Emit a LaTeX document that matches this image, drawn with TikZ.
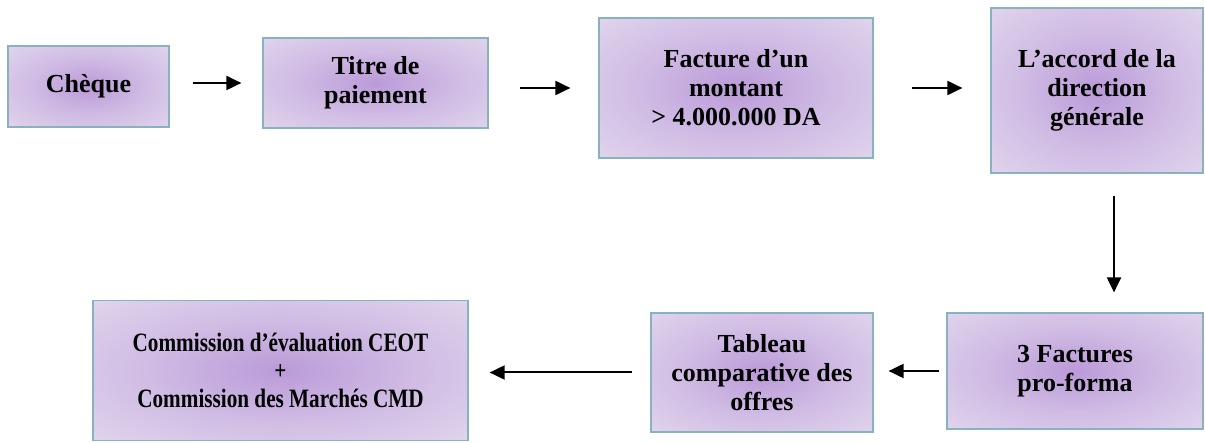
\documentclass[tikz,border=0pt]{standalone}
\usepackage{fontspec}
\setmainfont{Liberation Serif}
\newfontfamily\narrowserif[FakeStretch=0.8]{Liberation Serif}
\usetikzlibrary{arrows.meta}
\definecolor{boxcore}{RGB}{186,154,216}
\definecolor{boxmid}{RGB}{208,188,228}
\definecolor{boxrim}{RGB}{230,221,240}
\definecolor{boxcorner}{RGB}{238,233,246}
\definecolor{boxline}{RGB}{135,178,190}
\pgfdeclareradialshading{softglow}{\pgfpoint{0bp}{0bp}}{%
  color(0bp)=(boxcore); color(18bp)=(boxmid); color(42bp)=(boxrim);
  color(60bp)=(boxcorner); color(100bp)=(boxcorner)}
\tikzset{
  flowbox/.style={draw=boxline, line width=1.2pt, shade, shading=softglow,
    align=center, font=\bfseries\fontsize{26}{29}\selectfont, inner sep=0pt},
  flowarrow/.style={line width=2pt, -{Triangle[length=15pt,width=14pt]}}
}
\begin{document}
\begin{tikzpicture}[x=1pt,y=-1pt]
\useasboundingbox (0,0) rectangle (1205,443);
% top row
\node[flowbox, minimum width=161pt, minimum height=81pt] (cheque) at (88.5,86.5) {Chèque};
\node[flowbox, minimum width=225pt, minimum height=90pt] (titre) at (375.5,83) {Titre de\\paiement};
\node[flowbox, minimum width=274pt, minimum height=140pt] (facture) at (736,88) {Facture d’un\\montant\\ > 4.000.000 DA};
\node[flowbox, minimum width=212pt, minimum height=165pt] (accord) at (1097,90.5) {L’accord de la\\direction\\générale};
% bottom row
\node[flowbox, minimum width=256pt, minimum height=116pt] (proforma) at (1075,371) {3 Factures\\pro-forma};
\node[flowbox, minimum width=222pt, minimum height=119pt] (tableau) at (762,372.5) {Tableau\\comparative des\\offres};
\node[flowbox, minimum width=375pt, minimum height=140pt, font=\narrowserif\bfseries\fontsize{26.5}{28}\selectfont] (commission) at (280.5,370.5) {Commission d’évaluation CEOT\\+\\ Commission des Marchés CMD};
% connectors
\draw[flowarrow, shorten <=23pt, shorten >=21pt] (cheque.east |- titre.west) -- (titre.west);
\draw[flowarrow, shorten <=31pt, shorten >=28pt] (titre.east |- facture.west) -- (facture.west);
\draw[flowarrow, shorten <=38pt, shorten >=28pt] (facture.east) -- (facture.east -| accord.west);
\draw[flowarrow, shorten <=22pt, shorten >=20pt] ([xshift=17pt]accord.south) -- ([xshift=17pt]accord.south |- proforma.north);
\draw[flowarrow, shorten <=7pt, shorten >=15pt] (proforma.west) -- (proforma.west -| tableau.east);
\draw[flowarrow, shorten <=18pt, shorten >=21pt] (tableau.west) -- (tableau.west -| commission.east);
\end{tikzpicture}
\end{document}
